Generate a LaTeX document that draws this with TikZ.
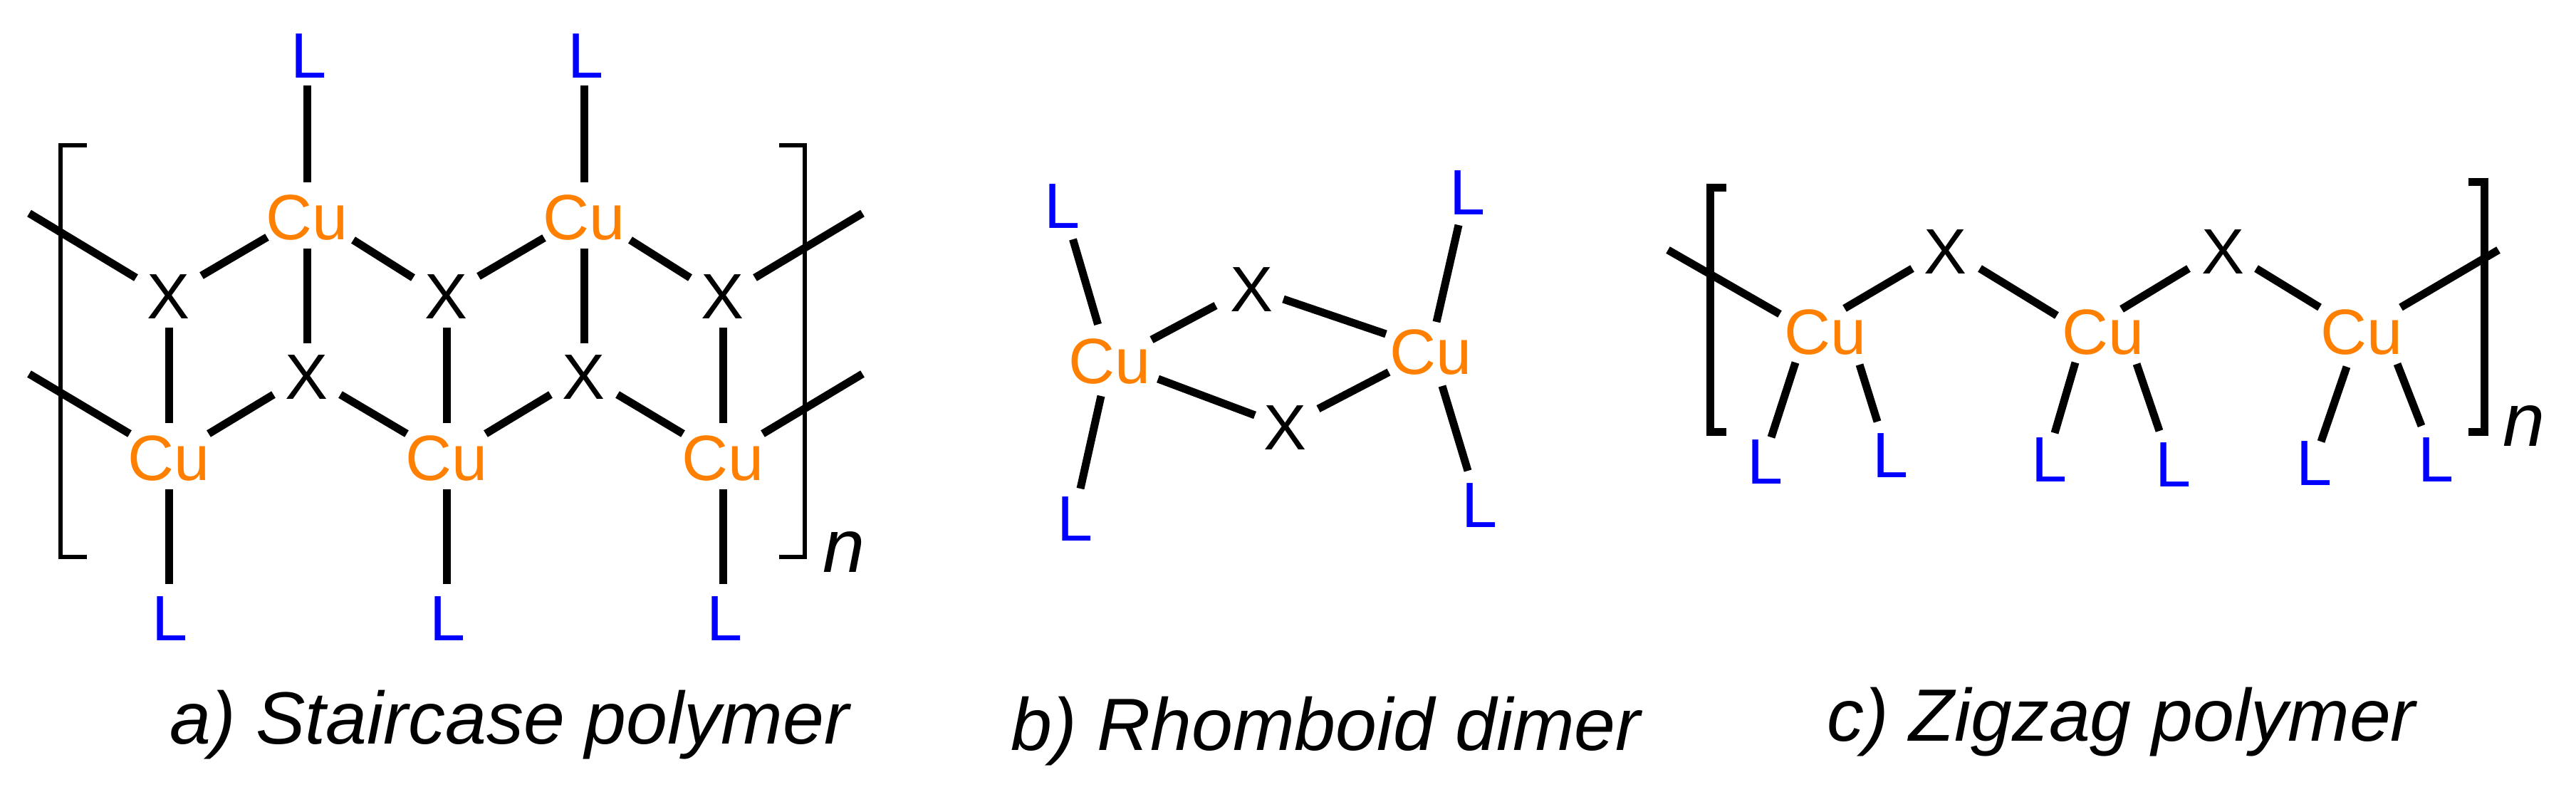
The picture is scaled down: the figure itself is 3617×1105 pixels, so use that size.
\documentclass[tikz,border=0pt]{standalone}
\usepackage{fontspec}
\setmainfont{Liberation Sans}
\definecolor{cuorange}{HTML}{FF8000}
\definecolor{ligblue}{HTML}{0000FF}
\tikzset{
  x=1pt,y=-1pt,
  atom/.style={font=\fontsize{90}{90}\selectfont,text height=65pt,text depth=0pt,inner xsep=10pt,inner ysep=12pt,anchor=center},
  cu/.style={atom,text=cuorange},
  hal/.style={atom,text=black},
  lig/.style={atom,text=ligblue},
  bond/.style={draw=black,line width=11pt},
  bracketthin/.style={draw=black,line width=6pt,miter limit=10},
  bracketthick/.style={draw=black,line width=11pt,miter limit=10},
  caption/.style={font=\fontsize{104}{104}\selectfont\itshape,anchor=base west,inner sep=0pt},
  rep/.style={font=\fontsize{106}{106}\selectfont\itshape,anchor=center,inner sep=0pt}
}
% \bnd{node A}{offset from A}{node B}{offset from B}
\newcommand{\bnd}[4]{\draw[bond] ([shift={(#2)}]#1.center) -- ([shift={(#4)}]#3.center);}
\begin{document}
\begin{tikzpicture}
\useasboundingbox (0,0) rectangle (3617,1105);
% ---- panel a
\node[cu] (aC1) at (431,304) {Cu};
\node[cu] (aC2) at (820,304) {Cu};
\node[cu] (aC3) at (237,642) {Cu};
\node[cu] (aC4) at (627,642) {Cu};
\node[cu] (aC5) at (1015,642) {Cu};
\node[hal] (aX1) at (237,415) {X};
\node[hal] (aX2) at (627,415) {X};
\node[hal] (aX3) at (1015,415) {X};
\node[hal] (aX4) at (431,528) {X};
\node[hal] (aX5) at (820,528) {X};
\node[lig] (aL1) at (434,77) {L};
\node[lig] (aL2) at (823,77) {L};
\node[lig] (aL3) at (239,867) {L};
\node[lig] (aL4) at (629,867) {L};
\node[lig] (aL5) at (1018,867) {L};
\coordinate (aE1) at (41,299.5);
\coordinate (aE2) at (1211,299.5);
\coordinate (aE3) at (41,525);
\coordinate (aE4) at (1211,525);
\bnd{aL1}{-3,43}{aC1}{0,-48}
\bnd{aL2}{-3,43}{aC2}{0,-48}
\bnd{aC1}{0,45}{aX4}{0,-46}
\bnd{aC2}{0,45}{aX5}{0,-46}
\bnd{aX1}{0,45}{aC3}{0,-48}
\bnd{aX2}{0,45}{aC4}{0,-48}
\bnd{aX3}{0,45}{aC5}{0,-48}
\bnd{aC3}{0,45}{aL3}{-2,-47}
\bnd{aC4}{0,45}{aL4}{-2,-47}
\bnd{aC5}{0,45}{aL5}{-3,-47}
\bnd{aC1}{-56,29}{aX1}{46,-28}
\bnd{aC1}{65,33}{aX2}{-47,-25}
\bnd{aC2}{-56,30}{aX2}{45,-27}
\bnd{aC2}{65,33}{aX3}{-46,-25}
\bnd{aE1}{0,0}{aX1}{-46,-25}
\bnd{aE2}{0,0}{aX3}{45,-25}
\bnd{aX4}{-47,26}{aC3}{56,-33}
\bnd{aX4}{47,26}{aC4}{-56,-33}
\bnd{aX5}{-47,26}{aC4}{55,-33}
\bnd{aX5}{47,26}{aC5}{-56,-33}
\bnd{aE3}{0,0}{aC3}{-55,-33}
\bnd{aE4}{0,0}{aC5}{56,-33}
\draw[bracketthin] (122,204) -- (85.3,204) -- (85.3,782) -- (122,782);
\draw[bracketthin] (1094,204) -- (1130,204) -- (1130,782) -- (1094,782);
\node[rep] (an) at (1185,774.5) {n};
\node[caption] (acap) at (238,1044) {a) Staircase polymer};
% ---- panel b
\node[cu] (bC1) at (1558,506) {Cu};
\node[cu] (bC2) at (2009,493) {Cu};
\node[hal] (bX1) at (1757,405) {X};
\node[hal] (bX2) at (1804,599) {X};
\node[lig] (bL1) at (1492,288) {L};
\node[lig] (bL2) at (2061,269) {L};
\node[lig] (bL3) at (1510,727) {L};
\node[lig] (bL4) at (2078,708) {L};
\bnd{bL1}{14.5,48}{bC1}{-16.4,-50.5}
\bnd{bL2}{-13,47}{bC2}{8,-41}
\bnd{bC1}{-12,50}{bL3}{7,-41}
\bnd{bC2}{16,49}{bL4}{-17,-47}
\bnd{bC1}{59,-29}{bX1}{-50,24}
\bnd{bX1}{45,15}{bC2}{-63,-24}
\bnd{bC1}{68,26}{bX2}{-42,-16}
\bnd{bX2}{47,-25}{bC2}{-59,29.5}
\node[caption] (bcap) at (1419,1053) {b) Rhomboid dimer};
% ---- panel c
\node[cu] (cC1) at (2563,465) {Cu};
\node[cu] (cC2) at (2953,465) {Cu};
\node[cu] (cC3) at (3316,465) {Cu};
\node[hal] (cX1) at (2731,352) {X};
\node[hal] (cX2) at (3121,352) {X};
\node[lig] (cL1) at (2478,647) {L};
\node[lig] (cL2) at (2654,638) {L};
\node[lig] (cL3) at (2877,644) {L};
\node[lig] (cL4) at (3051,651) {L};
\node[lig] (cL5) at (3249,649) {L};
\node[lig] (cL6) at (3420,644) {L};
\coordinate (cE1) at (2342,351);
\coordinate (cE2) at (3508,351);
\bnd{cE1}{0,0}{cC1}{-64,-24}
\bnd{cC1}{27,-32}{cX1}{-46,25}
\bnd{cX1}{49,25}{cC2}{-65,-22}
\bnd{cC2}{26,-31}{cX2}{-48,25}
\bnd{cX2}{47,25}{cC3}{-59,-33.5}
\bnd{cC3}{55,-33.5}{cE2}{0,0}
\bnd{cC1}{-42,44}{cL1}{9,-33}
\bnd{cC1}{48,47}{cL2}{-18,-46}
\bnd{cC2}{-39,44}{cL3}{8,-36}
\bnd{cC2}{47,46}{cL4}{-19,-46}
\bnd{cC3}{-21,50}{cL5}{10,-29}
\bnd{cC3}{50,46}{cL6}{-20,-46}
\draw[bracketthick] (2424,263.5) -- (2401.6,263.5) -- (2401.6,606.5) -- (2424,606.5);
\draw[bracketthick] (3466,255.5) -- (3488.5,255.5) -- (3488.5,606.5) -- (3466,606.5);
\node[rep] (cn) at (3544,598.5) {n};
\node[caption] (ccap) at (2565,1040) {c) Zigzag polymer};
\end{tikzpicture}
\end{document}
